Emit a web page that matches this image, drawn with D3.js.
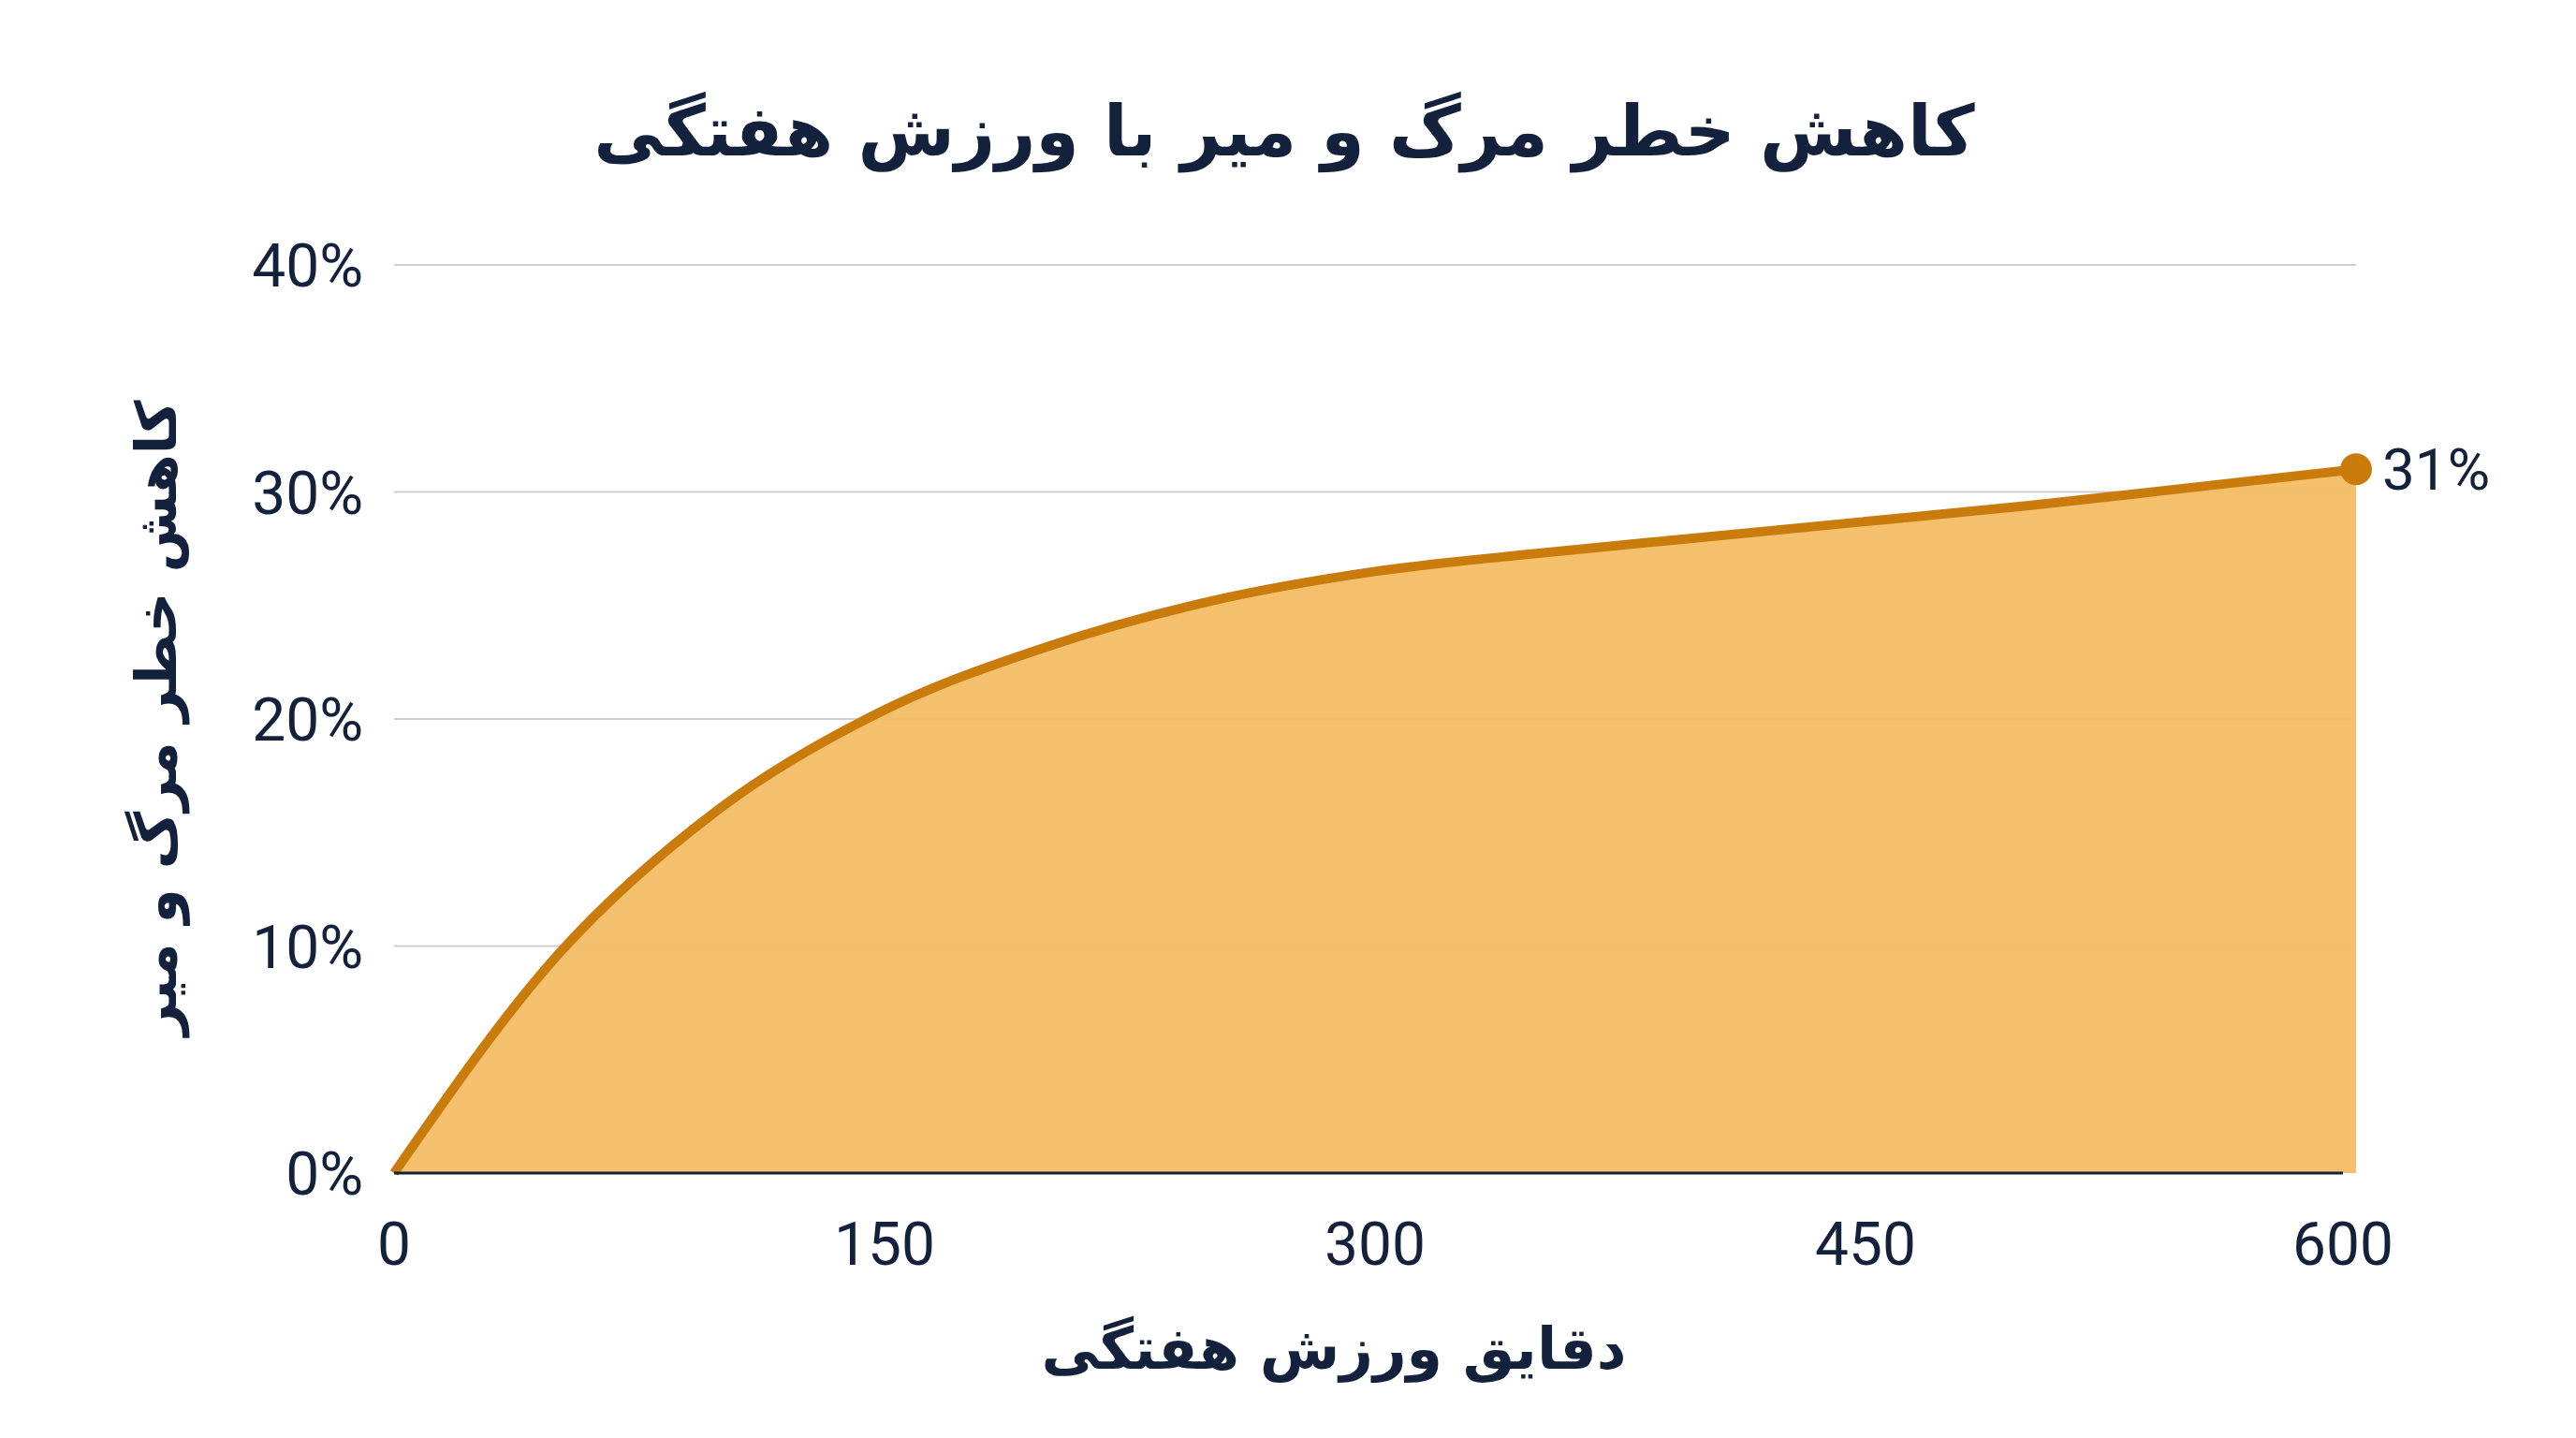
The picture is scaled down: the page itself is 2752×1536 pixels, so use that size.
<!DOCTYPE html>
<html><head><meta charset="utf-8">
<script src="https://cdn.jsdelivr.net/npm/d3@7"></script>
<style>body{margin:0;background:#fff}svg{display:block}</style>
</head><body>
<svg id="c" width="2752" height="1536"></svg>
<script>
const minutes = [0,50,100,150,200,250,300,350,400,450,500,550,600];
const reduction = [0,9.6,16.1,20.4,23.2,25.2,26.5,27.3,28.0,28.7,29.4,30.2,31];
const xTicks = [0,150,300,450,600];
const yTicks = [0,10,20,30,40];
const title = "کاهش خطر مرگ و میر با ورزش هفتگی";
const xTitle = "دقایق ورزش هفتگی";
const yTitle = "کاهش خطر مرگ و میر";

const svg = d3.select("#c");
const navy = "#14213d", line="#c97c0c", fill="#f3bd66";
const x = d3.scaleLinear().domain([0,600]).range([421,2517]);
const y = d3.scaleLinear().domain([0,40]).range([1253,283]);
const tf = "Roboto, 'Noto Sans', sans-serif", af = "'DejaVu Sans', sans-serif";

svg.append("g").selectAll("line").data(yTicks.slice(1)).join("line")
 .attr("x1",x(0)).attr("x2",x(600)).attr("y1",d=>y(d)).attr("y2",d=>y(d))
 .attr("stroke","#cfcfcf").attr("stroke-width",2);
const data = minutes.map((m,i)=>({m,v:reduction[i]}));
svg.append("path").datum(data).attr("fill",fill).attr("opacity",0.95)
 .attr("d",d3.area().x(d=>x(d.m)).y0(y(0)).y1(d=>y(d.v)).curve(d3.curveMonotoneX));
svg.append("path").datum(data).attr("fill","none").attr("stroke",line).attr("stroke-width",10)
 .attr("d",d3.line().x(d=>x(d.m)).y(d=>y(d.v)).curve(d3.curveMonotoneX));
svg.append("line").attr("x1",x(0)).attr("x2",2503).attr("y1",y(0)).attr("y2",y(0))
 .attr("stroke",navy).attr("stroke-width",3);
svg.append("circle").attr("cx",x(600)).attr("cy",y(31)).attr("r",17).attr("fill",line);
svg.append("text").attr("x",x(600)+28).attr("y",y(31)).attr("dy","0.35em")
 .attr("font-family",tf).attr("font-size",62).attr("fill",navy).text("31%");

svg.append("g").selectAll("text").data(yTicks).join("text")
 .attr("x",388).attr("y",d=>y(d)).attr("dy","0.36em").attr("text-anchor","end")
 .attr("font-family",tf).attr("font-size",64).attr("fill",navy).text(d=>d+"%");
svg.append("g").selectAll("text").data(xTicks).join("text")
 .attr("x",d=>d===600?2503:x(d)).attr("y",1328).attr("dy","0.36em").attr("text-anchor","middle")
 .attr("font-family",tf).attr("font-size",64).attr("fill",navy).text(d=>d);

svg.append("text").attr("x",1372).attr("y",140).attr("dy","0.35em").attr("text-anchor","middle")
 .attr("font-family",af).attr("font-weight","bold").attr("font-size",75).attr("fill",navy).text(title);
svg.append("text").attr("x",1425).attr("y",1440).attr("dy","0.35em").attr("text-anchor","middle")
 .attr("font-family",af).attr("font-weight","bold").attr("font-size",62).attr("fill",navy).text(xTitle);
svg.append("text").attr("transform","translate(167,767) rotate(-90)").attr("dy","0.35em").attr("text-anchor","middle")
 .attr("font-family",af).attr("font-weight","bold").attr("font-size",60).attr("fill",navy).text(yTitle);
</script>
</body></html>
